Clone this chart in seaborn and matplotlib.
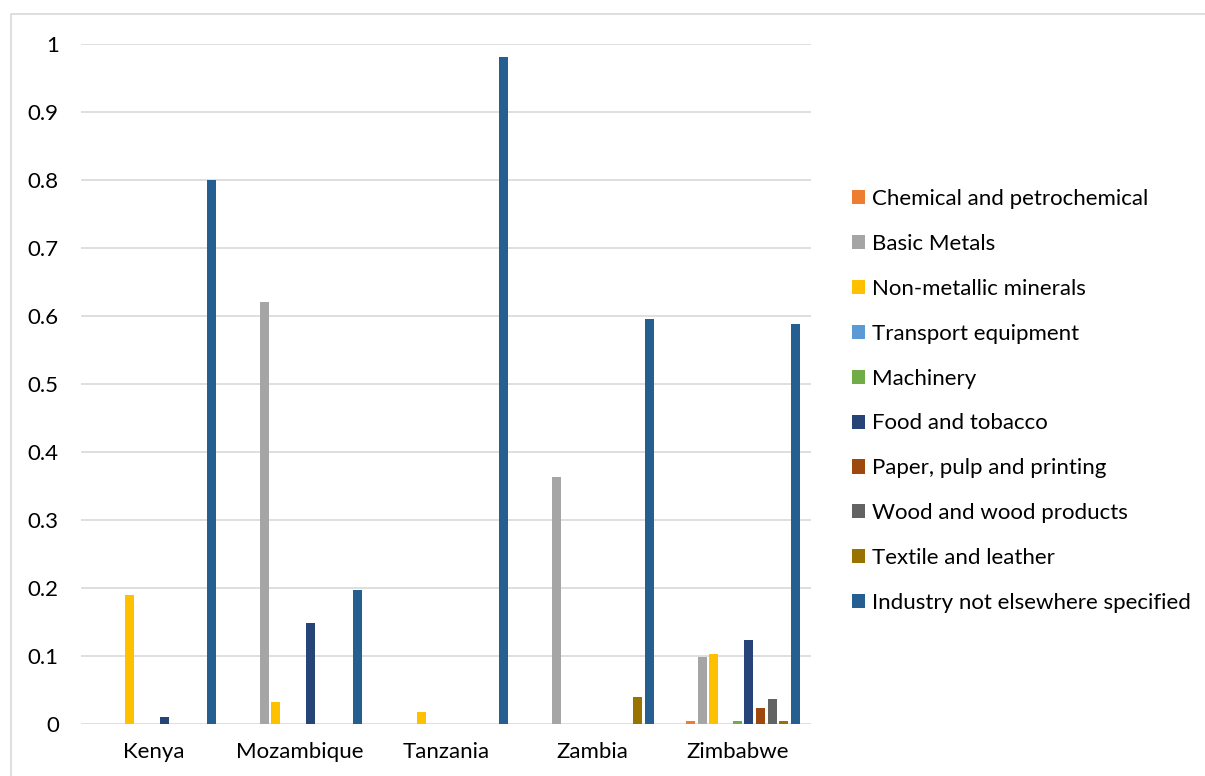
import matplotlib
matplotlib.use("Agg")
import matplotlib.pyplot as plt
import matplotlib.patches as mpatches
import matplotlib.transforms as mtransforms
import pandas as pd
import seaborn as sns

countries = ["Kenya", "Mozambique", "Tanzania", "Zambia", "Zimbabwe"]
sectors = [
    "Chemical and petrochemical",
    "Basic Metals",
    "Non-metallic minerals",
    "Transport equipment",
    "Machinery",
    "Food and tobacco",
    "Paper, pulp and printing",
    "Wood and wood products",
    "Textile and leather",
    "Industry not elsewhere specified",
]
colors = ["#ED7D31", "#A5A5A5", "#FFC000", "#5B9BD5", "#70AD47",
          "#264478", "#9E480E", "#636363", "#997300", "#255E91"]

# share of industrial energy use by sector, one list per country
kenya = [0.0, 0.0, 0.19, 0.0, 0.0, 0.01, 0.0, 0.0, 0.0, 0.80]
mozambique = [0.0, 0.62, 0.033, 0.0, 0.0, 0.148, 0.0, 0.0, 0.0, 0.197]
tanzania = [0.0, 0.0, 0.017, 0.0, 0.0, 0.0, 0.0, 0.0, 0.0, 0.981]
zambia = [0.0, 0.363, 0.0, 0.0, 0.0, 0.0, 0.0, 0.0, 0.040, 0.596]
zimbabwe = [0.005, 0.099, 0.103, 0.0, 0.005, 0.124, 0.024, 0.037, 0.005, 0.588]

y_ticks = [0, 0.1, 0.2, 0.3, 0.4, 0.5, 0.6, 0.7, 0.8, 0.9, 1]
y_tick_labels = ["0", "0.1", "0.2", "0.3", "0.4", "0.5", "0.6", "0.7", "0.8", "0.9", "1"]

rows = []
for country, vals in zip(countries, [kenya, mozambique, tanzania, zambia, zimbabwe]):
    for sector, v in zip(sectors, vals):
        rows.append({"country": country, "sector": sector, "share": v})
df = pd.DataFrame(rows)

sns.set_theme(style="white")
plt.rcParams["font.family"] = ["Lato", "DejaVu Sans"]
plt.rcParams["text.color"] = "#000000"
FS = 16

fig = plt.figure(figsize=(12.05, 7.76), dpi=100)
ax = fig.add_axes([81 / 1205, 52 / 776, 730 / 1205, 680 / 776])

sns.barplot(data=df, x="country", y="share", hue="sector",
            order=countries, hue_order=sectors, palette=colors,
            width=0.8, gap=0.23, linewidth=0, saturation=1,
            errorbar=None, legend=False, ax=ax, zorder=3)

# bar clusters sit a little right of the category centres
shift = 5 / 146
ax.set_xlim(-0.5 - shift, 4.5 - shift)
ax.set_ylim(0, 1)
ax.set_yticks(y_ticks)
ax.set_yticklabels(y_tick_labels)
ax.yaxis.grid(True, color="#d9d9d9", linewidth=1.2, zorder=0)
ax.set_axisbelow(True)
for s in ax.spines.values():
    s.set_visible(False)
ax.tick_params(axis="y", length=0, pad=16, labelsize=FS, labelcolor="#000000")
ax.tick_params(axis="x", length=0, pad=13, labelsize=FS, labelcolor="#000000")
ax.set_xlabel("")
ax.set_ylabel("")
offset = mtransforms.ScaledTranslation(-5 / 100, 0, fig.dpi_scale_trans)
for lab in ax.get_xticklabels():
    lab.set_transform(lab.get_transform() + offset)

handles = [mpatches.Patch(facecolor=c, edgecolor="none") for c in colors]
fig.legend(handles, sectors, loc="center left",
           bbox_to_anchor=(852 / 1205, 1 - 401 / 776),
           frameon=False, fontsize=FS, handlelength=0.6, handleheight=0.6,
           handletextpad=0.3, labelspacing=1.12, borderaxespad=0, borderpad=0,
           labelcolor="#000000")

# outer chart frame
fig.patches.append(mpatches.Rectangle((11 / 1205, -0.05), 1.2, 1 - 14 / 776 + 0.05,
                                      transform=fig.transFigure, fill=False,
                                      edgecolor="#d9d9d9", linewidth=1.2))

fig.savefig("out.png", dpi=100)
